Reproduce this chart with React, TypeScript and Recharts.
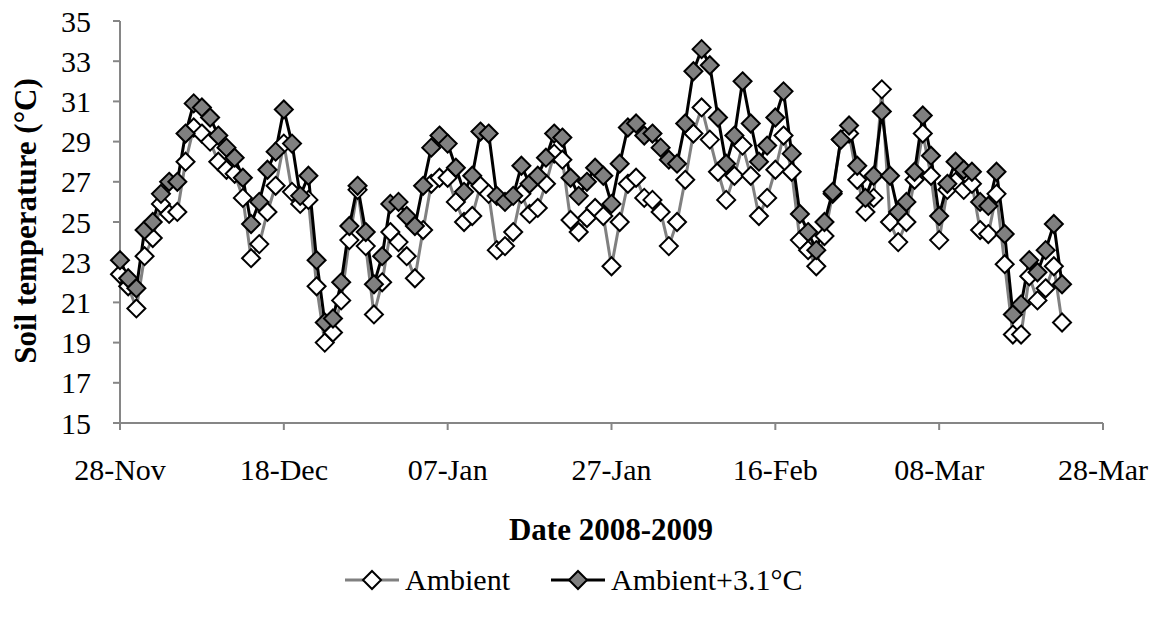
import React from "react";
import { LineChart, Line, XAxis, YAxis } from "recharts";

// daily soil temperature, 28-Nov-2008 onwards (one value per day)
const ambient = [
  22.4, 21.8, 20.7, 23.3, 24.2, 25.9, 25.4, 25.5, 28.0, 29.7,
  29.4, 29.0, 28.0, 27.6, 27.4, 26.2, 23.2, 23.9, 25.5, 26.8,
  28.9, 26.5, 25.9, 26.1, 21.8, 19.0, 19.5, 21.1, 24.1, 26.6,
  23.8, 20.4, 22.0, 24.5, 24.0, 23.3, 22.2, 24.6, 26.9, 27.2,
  27.2, 26.0, 25.0, 25.3, 26.8, 26.4, 23.6, 23.8, 24.5, 26.4,
  25.4, 25.7, 26.9, 28.4, 28.1, 25.1, 24.5, 25.2, 25.7, 25.3,
  22.8, 25.0, 26.9, 27.2, 26.2, 26.1, 25.5, 23.8, 25.0, 27.1,
  29.4, 30.7, 29.1, 27.5, 26.1, 27.3, 28.8, 27.3, 25.3, 26.2,
  27.6, 29.3, 27.5, 24.1, 23.6, 22.8, 24.3, 26.4, 29.1, 29.4,
  27.1, 25.5, 26.2, 31.6, 25.0, 24.0, 25.0, 27.1, 29.4, 27.3,
  24.1, 26.6, 27.0, 26.6, 26.9, 24.6, 24.4, 26.4, 22.9, 19.4,
  19.4, 22.3, 21.1, 21.7, 22.8, 20.0,
];

const warmed = [
  23.1, 22.2, 21.7, 24.6, 25.0, 26.4, 27.0, 27.0, 29.4, 30.9,
  30.7, 30.2, 29.3, 28.7, 28.2, 27.2, 24.9, 26.0, 27.6, 28.5,
  30.6, 28.9, 26.3, 27.3, 23.1, 20.0, 20.2, 22.0, 24.8, 26.8,
  24.5, 21.9, 23.3, 25.9, 26.0, 25.3, 24.8, 26.8, 28.7, 29.3,
  28.9, 27.7, 26.5, 27.3, 29.5, 29.4, 26.3, 26.0, 26.3, 27.8,
  26.9, 27.3, 28.2, 29.4, 29.2, 27.2, 26.3, 27.0, 27.7, 27.3,
  25.9, 27.9, 29.7, 29.9, 29.3, 29.4, 28.7, 28.1, 27.9, 29.9,
  32.5, 33.6, 32.8, 30.2, 27.9, 29.3, 32.0, 29.9, 28.0, 28.8,
  30.2, 31.5, 28.4, 25.4, 24.5, 23.6, 25.0, 26.5, 29.1, 29.8,
  27.8, 26.2, 27.3, 30.5, 27.3, 25.5, 26.0, 27.5, 30.3, 28.3,
  25.3, 26.9, 28.0, 27.6, 27.5, 26.0, 25.8, 27.5, 24.4, 20.4,
  20.9, 23.1, 22.5, 23.6, 24.9, 21.9,
];

const xTicks = [0, 20, 40, 60, 80, 100, 120];
const xTickLabels = ["28-Nov", "18-Dec", "07-Jan", "27-Jan", "16-Feb", "08-Mar", "28-Mar"];
const yTicks = [15, 17, 19, 21, 23, 25, 27, 29, 31, 33, 35];

const data = ambient.map((v, i) => ({ day: i, ambient: v, warmed: warmed[i] }));

const FONT = "'Liberation Serif', 'Times New Roman', serif";
const AXIS = "#868686";

const diamond = (fill: string) => (props: any) => {
  const { cx, cy, index } = props;
  if (cx == null || cy == null) return <g key={index} />;
  const r = 9;
  return (
    <path
      key={index}
      d={`M${cx},${cy - r}L${cx + r},${cy}L${cx},${cy + r}L${cx - r},${cy}Z`}
      fill={fill}
      stroke="#000"
      strokeWidth={2}
    />
  );
};

function LegendItem({ x, y, line, fill, text }: { x: number; y: number; line: string; fill: string; text: string }) {
  const r = 9;
  const cx = x + 27;
  return (
    <g>
      <line x1={x} y1={y} x2={x + 54} y2={y} stroke={line} strokeWidth={3} />
      <path
        d={`M${cx},${y - r}L${cx + r},${y}L${cx},${y + r}L${cx - r},${y}Z`}
        fill={fill}
        stroke="#000"
        strokeWidth={2}
      />
      <text x={x + 60} y={y + 10} fontFamily={FONT} fontSize={30} fill="#000">
        {text}
      </text>
    </g>
  );
}

export default function App() {
  return (
    <div style={{ position: "absolute", left: 0, top: 0, width: 1153, height: 619, background: "#fff" }}>
      <LineChart width={1153} height={619} data={data} margin={{ top: 21, right: 50, left: 0, bottom: 136 }}>
        <XAxis
          type="number"
          dataKey="day"
          domain={[0, 120]}
          ticks={xTicks}
          interval={0}
          height={60}
          tickFormatter={(v: number) => xTickLabels[xTicks.indexOf(v)]}
          tickSize={7}
          tickMargin={29}
          axisLine={{ stroke: AXIS, strokeWidth: 2 }}
          tickLine={{ stroke: AXIS, strokeWidth: 2 }}
          tick={{ fill: "#000", fontSize: 30, fontFamily: FONT }}
        />
        <YAxis
          width={120}
          domain={[15, 35]}
          ticks={yTicks}
          interval={0}
          tickSize={7}
          tickMargin={22}
          axisLine={{ stroke: AXIS, strokeWidth: 2 }}
          tickLine={{ stroke: AXIS, strokeWidth: 2 }}
          tick={{ fill: "#000", fontSize: 30, fontFamily: FONT }}
        />
        <Line
          dataKey="ambient"
          name="Ambient"
          type="linear"
          stroke="#808080"
          strokeWidth={3}
          dot={diamond("#ffffff")}
          activeDot={false}
          isAnimationActive={false}
        />
        <Line
          dataKey="warmed"
          name="Ambient+3.1°C"
          type="linear"
          stroke="#000000"
          strokeWidth={3}
          dot={diamond("#808080")}
          activeDot={false}
          isAnimationActive={false}
        />
      </LineChart>
      <svg width={1153} height={619} style={{ position: "absolute", left: 0, top: 0, pointerEvents: "none" }}>
        <text
          x={36}
          y={221}
          transform="rotate(-90 36 221)"
          textAnchor="middle"
          fontFamily={FONT}
          fontSize={31}
          fontWeight="bold"
          fill="#000"
        >
          Soil temperature (°C)
        </text>
        <text x={611} y={540} textAnchor="middle" fontFamily={FONT} fontSize={31} fontWeight="bold" fill="#000">
          Date 2008-2009
        </text>
        <LegendItem x={345} y={580} line="#808080" fill="#ffffff" text="Ambient" />
        <LegendItem x={551} y={580} line="#000000" fill="#808080" text="Ambient+3.1°C" />
      </svg>
    </div>
  );
}
